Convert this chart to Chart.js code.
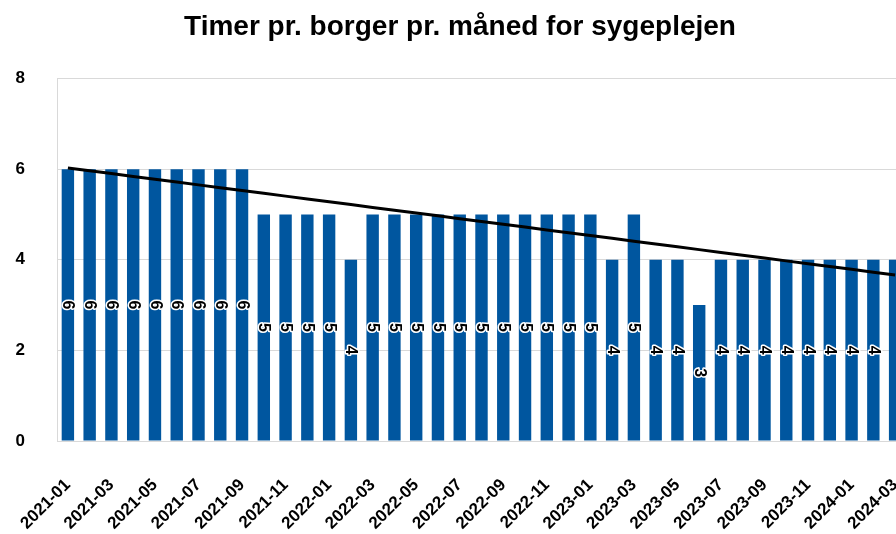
<!DOCTYPE html>
<html>
<head>
<meta charset="utf-8">
<script src="https://cdn.jsdelivr.net/npm/chart.js@4.4.0/dist/chart.umd.min.js"></script>
<style>
html, body { margin: 0; padding: 0; overflow: hidden; background: #fff; }
#wrap { width: 920px; height: 534px; }
</style>
</head>
<body>
<div id="wrap"><canvas id="canvas" width="920" height="534"></canvas></div>
<script>
var months = [
  '2021-01','2021-02','2021-03','2021-04','2021-05','2021-06','2021-07','2021-08','2021-09','2021-10','2021-11','2021-12',
  '2022-01','2022-02','2022-03','2022-04','2022-05','2022-06','2022-07','2022-08','2022-09','2022-10','2022-11','2022-12',
  '2023-01','2023-02','2023-03','2023-04','2023-05','2023-06','2023-07','2023-08','2023-09','2023-10','2023-11','2023-12',
  '2024-01','2024-02','2024-03'
];
var hours = [
  6,6,6,6,6,6,6,6,6,5,5,5,
  5,4,5,5,5,5,5,5,5,5,5,5,
  5,4,5,4,4,3,4,4,4,4,4,4,
  4,4,4
];
var yTicks = [0, 2, 4, 6, 8];

// linear trend line (least squares over the monthly values)
function linearTrend(vals) {
  var n = vals.length, sx = 0, sy = 0, sxy = 0, sxx = 0;
  for (var i = 0; i < n; i++) {
    sx += i; sy += vals[i]; sxy += i * vals[i]; sxx += i * i;
  }
  var slope = (n * sxy - sx * sy) / (n * sxx - sx * sx);
  var icpt = (sy - slope * sx) / n;
  return vals.map(function(v, i) { return icpt + slope * i; });
}

var FONT = '"Liberation Sans", Arial, sans-serif';

// value labels, rotated, centred in each bar (skipped when the bar runs off the page)
var barLabels = {
  id: 'barLabels',
  afterDatasetsDraw: function(chart) {
    var ctx = chart.ctx;
    var meta = chart.getDatasetMeta(0);
    ctx.save();
    ctx.font = 'bold 16px ' + FONT;
    ctx.textAlign = 'center';
    ctx.textBaseline = 'middle';
    meta.data.forEach(function(bar, i) {
      if (bar.x + bar.width / 2 > 896) return;
      var y = (bar.y + bar.base) / 2;
      ctx.save();
      ctx.translate(bar.x, y);
      ctx.rotate(Math.PI / 2);
      ctx.lineWidth = 3;
      ctx.lineJoin = 'round';
      ctx.strokeStyle = '#fff';
      ctx.strokeText(String(hours[i]), 0, 0);
      ctx.fillStyle = '#000';
      ctx.fillText(String(hours[i]), 0, 0);
      ctx.restore();
    });
    ctx.restore();
  }
};

var ctx = document.getElementById('canvas').getContext('2d');
var myChart = new Chart(ctx, {
  data: {
    labels: months,
    datasets: [{
      type: 'bar',
      data: hours,
      backgroundColor: '#00569F',
      barPercentage: 0.57,
      categoryPercentage: 1,
      order: 1
    }, {
      type: 'line',
      data: linearTrend(hours),
      borderColor: '#000',
      borderWidth: 3,
      pointRadius: 0,
      fill: false,
      tension: 0,
      order: 0
    }]
  },
  options: {
    responsive: false,
    animation: false,
    layout: { padding: { left: 14, right: 14, top: 0, bottom: 0 } },
    plugins: {
      legend: { display: false },
      tooltip: { enabled: false },
      title: {
        display: true,
        text: 'Timer pr. borger pr. måned for sygeplejen',
        color: '#000',
        font: { family: FONT, size: 28, weight: 'bold' },
        padding: { top: 10, bottom: 35 }
      }
    },
    scales: {
      x: {
        grid: { display: false },
        border: { display: false },
        ticks: {
          autoSkip: false,
          maxRotation: 45,
          minRotation: 45,
          padding: 26,
          color: '#000',
          font: { family: FONT, size: 17, weight: 'bold' },
          callback: function(val, i) { return i % 2 === 0 ? months[i] : ''; }
        },
        afterFit: function(s) {
          s.height = 93;
          s.paddingLeft = 0;
          s.paddingRight = 0;
        }
      },
      y: {
        min: yTicks[0],
        max: yTicks[yTicks.length - 1],
        afterBuildTicks: function(s) { s.ticks = yTicks.map(function(v) { return { value: v }; }); },
        grid: { color: '#d9d9d9', drawTicks: false },
        border: { display: true, color: '#d9d9d9' },
        ticks: {
          padding: 32,
          color: '#000',
          font: { family: FONT, size: 17, weight: 'bold' }
        },
        afterFit: function(s) { s.width = 43; }
      }
    }
  },
  plugins: [barLabels]
});
</script>
</body>
</html>
